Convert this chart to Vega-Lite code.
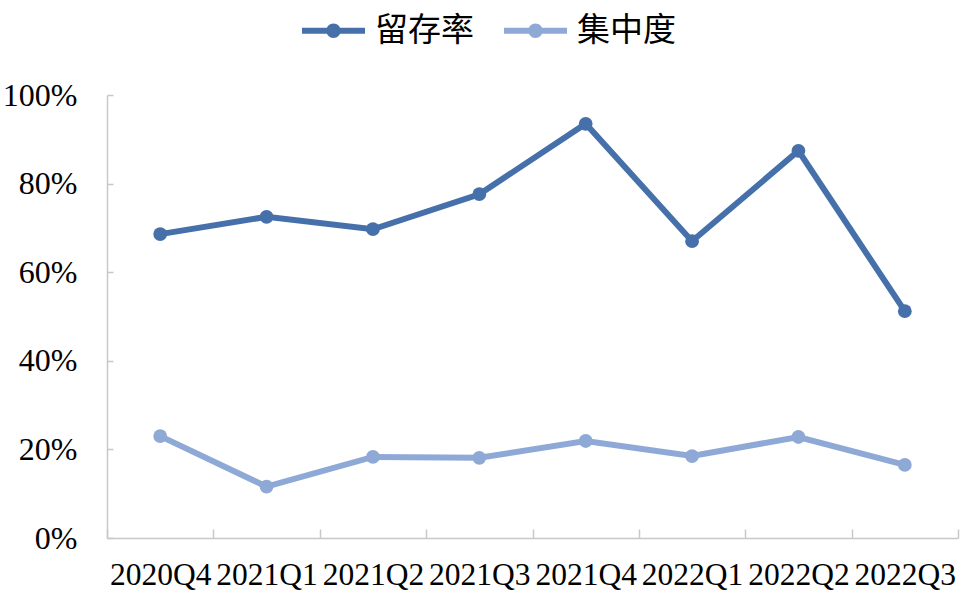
{
  "$schema": "https://vega.github.io/schema/vega-lite/v6.json",
  "width": 851,
  "height": 443,
  "autosize": {"type": "none"},
  "padding": {"left": 107, "top": 95, "right": 11, "bottom": 65},
  "background": "white",
  "config": {"view": {"stroke": null}, "font": "Liberation Serif"},
  "data": {
    "values": [
      {"quarter": "2020Q4", "series": "留存率", "value": 0.686},
      {"quarter": "2021Q1", "series": "留存率", "value": 0.725},
      {"quarter": "2021Q2", "series": "留存率", "value": 0.697},
      {"quarter": "2021Q3", "series": "留存率", "value": 0.776},
      {"quarter": "2021Q4", "series": "留存率", "value": 0.935},
      {"quarter": "2022Q1", "series": "留存率", "value": 0.670},
      {"quarter": "2022Q2", "series": "留存率", "value": 0.874},
      {"quarter": "2022Q3", "series": "留存率", "value": 0.512},
      {"quarter": "2020Q4", "series": "集中度", "value": 0.230},
      {"quarter": "2021Q1", "series": "集中度", "value": 0.116},
      {"quarter": "2021Q2", "series": "集中度", "value": 0.183},
      {"quarter": "2021Q3", "series": "集中度", "value": 0.181},
      {"quarter": "2021Q4", "series": "集中度", "value": 0.219},
      {"quarter": "2022Q1", "series": "集中度", "value": 0.185},
      {"quarter": "2022Q2", "series": "集中度", "value": 0.228},
      {"quarter": "2022Q3", "series": "集中度", "value": 0.165}
    ]
  },
  "encoding": {
    "x": {
      "field": "quarter",
      "type": "nominal",
      "sort": null,
      "scale": {"type": "band", "paddingInner": 0, "paddingOuter": 0},
      "axis": {
        "title": null,
        "labelAngle": 0,
        "labelFontSize": 31.5,
        "labelColor": "#000000",
        "labelFont": "Liberation Serif",
        "labelPadding": 30,
        "labelOverlap": false,
        "tickBand": "extent",
        "tickSize": -9,
        "tickColor": "#C8C8C8",
        "tickWidth": 1.5,
        "domainColor": "#C8C8C8",
        "domainWidth": 1.5,
        "grid": false
      }
    },
    "y": {
      "field": "value",
      "type": "quantitative",
      "scale": {"domain": [0, 1], "nice": false},
      "axis": {
        "title": null,
        "values": [0, 0.2, 0.4, 0.6, 0.8, 1.0],
        "format": ".0%",
        "labelFontSize": 32,
        "labelColor": "#000000",
        "labelFont": "Liberation Serif",
        "labelPadding": 36,
        "tickSize": -6,
        "tickColor": "#C8C8C8",
        "tickWidth": 1.5,
        "domainColor": "#C8C8C8",
        "domainWidth": 1.5,
        "grid": false
      }
    },
    "color": {
      "field": "series",
      "type": "nominal",
      "sort": ["留存率", "集中度"],
      "scale": {"domain": ["留存率", "集中度"], "range": ["#4670AA", "#8FA9D6"]},
      "legend": {
        "title": null,
        "orient": "none",
        "legendX": 195,
        "legendY": -96,
        "direction": "horizontal",
        "labelFont": "Noto Sans CJK SC",
        "labelFontSize": 33,
        "labelColor": "#000000",
        "labelOffset": 10,
        "columnPadding": 30,
        "symbolType": "M -1 -0.095 L 1 -0.095 L 1 0.095 L -1 0.095 Z M -0.23 0 A 0.23 0.23 0 1 1 0.23 0 A 0.23 0.23 0 1 1 -0.23 0 Z",
        "symbolSize": 3969,
        "symbolStrokeWidth": 0,
        "encode": {
          "symbols": {
            "update": {
              "fill": {"scale": "color", "field": "value"},
              "stroke": {"value": "transparent"},
              "opacity": {"value": 1}
            }
          }
        }
      }
    }
  },
  "layer": [
    {"mark": {"type": "line", "strokeWidth": 6}},
    {"mark": {"type": "point", "filled": true, "size": 190, "opacity": 1}}
  ]
}
